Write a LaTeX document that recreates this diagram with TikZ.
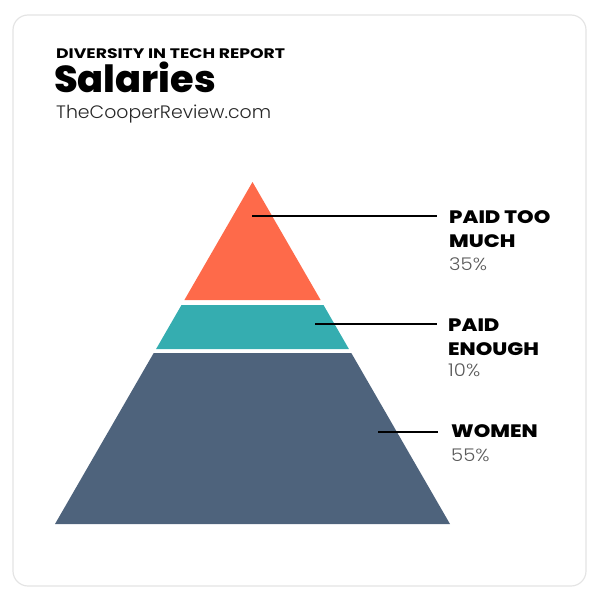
\documentclass[tikz,border=0pt]{standalone}
\usepackage{fontspec}
\setmainfont{Poppins}
\newfontfamily\popbold{Poppins}[UprightFont={* Bold}, FakeStretch=1.25]
\newfontfamily\popxbold{Poppins}[UprightFont={* ExtraBold}, FakeStretch=1.17]
\newfontfamily\poptitle{Poppins}[UprightFont={* ExtraBold}, FakeStretch=1.02]
\newfontfamily\poplight{Poppins}[UprightFont={* Light}, FakeStretch=1.05]
\newfontfamily\poppct{Poppins}[UprightFont={* Light}, FakeStretch=1.12]
\definecolor{orangeC}{HTML}{FE6A4A}
\definecolor{tealC}{HTML}{35ADB0}
\definecolor{navyC}{HTML}{4E637C}
\definecolor{borderC}{HTML}{E4E4E4}
\definecolor{pctC}{HTML}{5A5A5A}
\tikzset{
  lbl/.style={anchor=base west, inner sep=0pt, font=\popxbold\fontsize{18}{18}\selectfont},
  pct/.style={anchor=base west, inner sep=0pt, text=pctC, font=\poppct\fontsize{17.5}{17.5}\selectfont},
  leader/.style={draw=black, line width=2pt},
}
\begin{document}
\begin{tikzpicture}[x=1pt,y=-1pt]
\useasboundingbox (0,0) rectangle (592,596);
\draw[borderC, line width=1.2pt, rounded corners=15pt] (13,15) rectangle (586,586);
% title
\node[anchor=base west, inner sep=0pt, font=\popbold\fontsize{13.8}{13.8}\selectfont] (kicker) at (56,59) {DIVERSITY IN TECH REPORT};
\node[anchor=base west, inner sep=0pt, font=\poptitle\fontsize{37.5}{37.5}\selectfont] (title) at (54,93) {Salaries};
\node[anchor=base west, inner sep=0pt, font=\poplight\fontsize{18}{18}\selectfont, text=black!85] (site) at (56,119) {TheCooperReview.com};
% pyramid
\fill[orangeC] (252.5,182) -- (320.6,300) -- (184.4,300) -- cycle;
\fill[tealC] (181.5,305) -- (323.5,305) -- (348.9,349) -- (156.1,349) -- cycle;
\fill[navyC] (153.7,353) -- (351.3,353) -- (450,524) -- (55,524) -- cycle;
% labels
\node[lbl] (t1) at (449,223) {PAID TOO};
\node[lbl] (t1b) at (449,247) {MUCH};
\node[pct] (p1) at (449,270) {35\%};
\node[lbl] (t2) at (448,331) {PAID};
\node[lbl] (t2b) at (448,355) {ENOUGH};
\node[pct] (p2) at (448,376) {10\%};
\node[lbl] (t3) at (451,437) {WOMEN};
\node[pct] (p3) at (451,461) {55\%};
% leaders
\coordinate (a1) at (252,216);
\coordinate (b1) at (437,216);
\coordinate (a2) at (315,324);
\coordinate (b2) at (437,324);
\coordinate (a3) at (378,432);
\coordinate (b3) at (438,432);
\draw[leader] (a1) -- (b1);
\draw[leader] (a2) -- (b2);
\draw[leader] (a3) -- (b3);
\end{tikzpicture}
\end{document}
